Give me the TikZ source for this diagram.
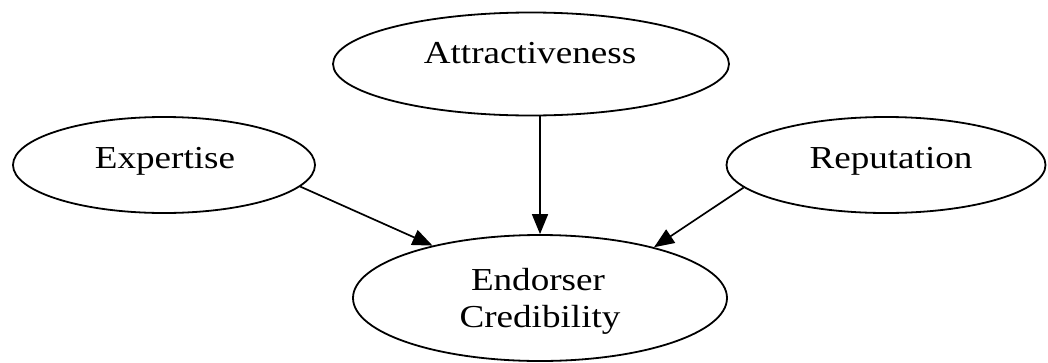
\documentclass[tikz,border=0pt]{standalone}
\usepackage{fontspec}
\setmainfont[FakeStretch=1.16]{Liberation Serif}
\usetikzlibrary{shapes.geometric,arrows.meta}
\begin{document}
\begin{tikzpicture}[x=1pt,y=-1pt,
  oval/.style={draw=black,ellipse,line width=1.8pt,inner sep=0pt,fill=white},
  lbl/.style={anchor=base,inner sep=0pt,font=\fontsize{32}{37}\selectfont,text=black},
  arr/.style={line width=1.7pt,-{Triangle[length=20pt,width=16pt]}}]
\useasboundingbox (0,0) rectangle (1048,362);
\node[oval,minimum width=396pt,minimum height=103pt] (attr) at (531,64) {};
\node[oval,minimum width=302pt,minimum height=96pt] (exp) at (164,165) {};
\node[oval,minimum width=319pt,minimum height=96pt] (rep) at (886,165) {};
\node[oval,minimum width=374pt,minimum height=126pt] (endc) at (540,298) {};
\node[lbl] (attrT) at (530,63) {Attractiveness};
\node[lbl] (expT) at (165,168) {Expertise};
\node[lbl] (repT) at (891,168) {Reputation};
\node[lbl] (endT1) at (538,290) {Endorser};
\node[lbl] (endT2) at (540,327) {Credibility};
\draw[arr] (attr.south -| endc.north) -- (endc.north);
\draw[arr] (exp.-9.5) -- (endc.154);
\draw[arr] (rep.189.5) -- (endc.24);
\end{tikzpicture}
\end{document}
